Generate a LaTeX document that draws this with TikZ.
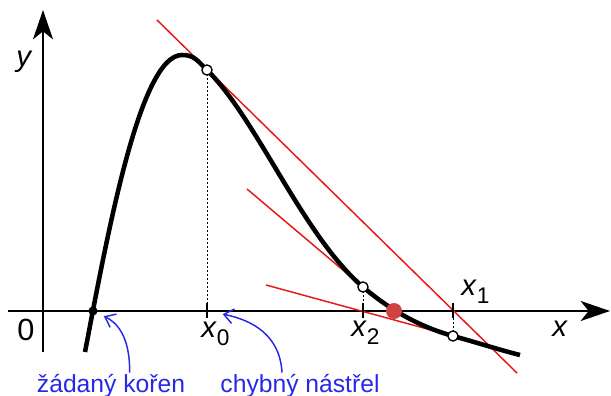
\documentclass[tikz,border=0pt]{standalone}
\usepackage{fontspec}
\setmainfont{Liberation Sans}
\usetikzlibrary{arrows.meta}

\definecolor{tanred}{RGB}{232,22,22}
\definecolor{dotred}{RGB}{208,66,66}
\definecolor{noteblue}{RGB}{40,40,232}

\newcommand{\xsub}[1]{\textit{x}\raisebox{-6pt}{\fontsize{17}{17}\selectfont #1}}

\tikzset{
  axis/.style={line width=1.5pt,-{Stealth[length=22pt,width=15pt,inset=6pt]}},
  tangent/.style={tanred,line width=1.1pt},
  tick/.style={line width=2.2pt},
  drop/.style={line width=0.75pt,dash pattern=on 1.5pt off 1.5pt},
  note/.style={noteblue,line width=1.1pt,-{Straight Barb[length=7pt,width=11pt,line width=1.1pt]}},
  lbl/.style={inner sep=0.75pt,font=\fontsize{22}{24}\selectfont},
  notelbl/.style={inner sep=0.75pt,noteblue,font=\fontsize{18.5}{21}\selectfont}
}

\begin{document}
\begin{tikzpicture}[x=0.75pt,y=0.75pt,yscale=-1,xscale=1]
\useasboundingbox (0,0) rectangle (611,396);

% points on the curve
\coordinate (R) at (93,311);
\coordinate (P0) at (207,70);
\coordinate (P2) at (363,287);
\coordinate (P1) at (453,336);
\coordinate (Z) at (394,311);
% ticks
\coordinate (T0) at (207,311);
\coordinate (T2) at (363,311);
\coordinate (T1) at (453,311);

%Straight Lines - axes
\draw [axis] (8,311) -- (610,311) ;
\draw [axis] (43,352) -- (43,10) ;

%Straight Lines - tangents
\draw [tangent] (157,20) -- (517,373) ;
\draw [tangent] (247,189) -- (P2) ;
\draw [tangent] (266,285) -- (P1) ;

%Straight Lines - drops to the axis
\draw [drop] (P0) -- (207,303) ;
\draw [drop] (P2) -- (363,303) ;
\draw [drop] (453,318) -- (P1) ;
\draw [tick] (207,303) -- (207,318) ;
\draw [tick] (363,303) -- (363,318) ;
\draw [tick] (453,303) -- (453,318) ;

%Curve
\draw [line width=3.4pt] (85,352) .. controls (108,232) and (140,55) .. (182,55) .. controls (194,55) and (197,60.2) .. (P0) .. controls (257,119) and (303,236) .. (P2) .. controls (393,312.5) and (423,327.7) .. (P1) .. controls (475,342) and (500,350) .. (520,355) ;

%Shape: Circle
\draw [line width=1pt,fill=white] (P0) circle (3.8pt) ;
\draw [line width=1pt,fill=white] (P2) circle (3.8pt) ;
\draw [line width=1pt,fill=white] (P1) circle (3.8pt) ;
\fill (R) circle (3.4pt) ;
\fill [dotred] (Z) circle (6pt) ;

% Text Node
\draw (15,66) node (ly) [anchor=base west][lbl] {\textit{y}};
% Text Node
\draw (16,340) node (lo) [anchor=base west][inner sep=0.75pt,font=\fontsize{23}{25}\selectfont] {0};
% Text Node
\draw (551,336) node (lx) [anchor=base west][lbl] {\textit{x}};
% Text Node
\draw (200,337) node (lx0) [anchor=base west][lbl] {\xsub{0}};
% Text Node
\draw (350,336) node (lx2) [anchor=base west][lbl] {\xsub{2}};
% Text Node
\draw (460,295) node (lx1) [anchor=base west][lbl] {\xsub{1}};
% Text Node
\draw (111,392) node (kor) [anchor=base][notelbl] {žádaný kořen};
% Text Node
\draw (300,392) node (nas) [anchor=base][notelbl] {chybný nástřel};

%Curved arrows
\draw [note,shorten >=9pt] ([xshift=14pt]kor.north) .. controls (130,335) and (116,322) .. (R) ;
\draw [note,shorten >=12pt] ([xshift=-13.5pt]nas.north) .. controls (280,335) and (252,320) .. (T0) ;

\end{tikzpicture}
\end{document}
